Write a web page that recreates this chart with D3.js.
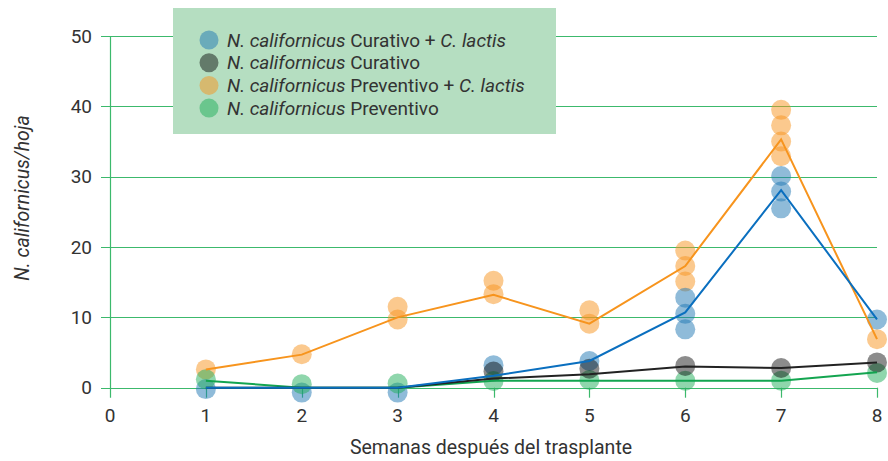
<!DOCTYPE html>
<meta charset="utf-8">
<script src="https://cdn.jsdelivr.net/npm/d3@7"></script>
<style>
  body { margin: 0; background: #fff; }
  text { font-family: Roboto, "Noto Sans", sans-serif; fill: #333; }
</style>
<body>
<script>

// weeks after transplant
var weeks = [1, 2, 3, 4, 5, 6, 7, 8];

// mean lines per treatment
var curLactisLine = [0, 0, 0, 1.7, 3.8, 10.7, 28.1, 9.7];
var curLine       = [0, 0, 0, 1.3, 1.9, 3.0, 2.8, 3.6];
var prevLactisLine = [2.6, 4.7, 10.0, 13.2, 9.1, 17.3, 35.3, 6.9];
var prevLine      = [1.0, 0, 0, 1.0, 1.0, 1.0, 1.0, 2.2];

// individual observations per week (one list per week)
var curLactisPts = [[-0.2], [-0.7], [-0.7], [3.2], [3.8], [12.8, 10.5, 8.3], [30.1, 27.9, 25.5], [9.7]];
var curPts       = [[], [], [], [2.3], [2.7], [3.1], [2.8], [3.6]];
var prevLactisPts = [[2.6], [4.75], [11.5, 9.7], [15.2, 13.3], [11.0, 9.1], [19.5, 17.3, 15.1], [39.5, 37.3, 35.0, 32.9], [6.9]];
var prevPts      = [[1.2], [0.5], [0.6], [0.95], [1.1], [1.0], [1.0], [2.1]];

var xTicks = [0, 1, 2, 3, 4, 5, 6, 7, 8];
var yTicks = [0, 10, 20, 30, 40, 50];

var series = [
  { name: "Curativo + ", extra: "C. lactis", color: "#1f77b4", line: "#0a6fbf", pts: curLactisPts, mean: curLactisLine },
  { name: "Curativo", extra: null, color: "#000000", line: "#222222", pts: curPts, mean: curLine },
  { name: "Preventivo + ", extra: "C. lactis", color: "#f7941d", line: "#f7941d", pts: prevLactisPts, mean: prevLactisLine },
  { name: "Preventivo", extra: null, color: "#1fae5a", line: "#13a550", pts: prevPts, mean: prevLine }
];

var grid = "#3cb96c";

var svg = d3.select("body").append("svg")
    .attr("width", 888)
    .attr("height", 461);

var x = d3.scaleLinear().domain([0, 8]).range([110, 877]);
var y = d3.scaleLinear().domain([0, 50]).range([387.7, 36]);

// horizontal grid
svg.append("g").selectAll("line")
    .data(yTicks)
    .enter().append("line")
    .attr("x1", x(0) - 9).attr("x2", x(8))
    .attr("y1", function(d) { return Math.round(y(d)) + 0.5; })
    .attr("y2", function(d) { return Math.round(y(d)) + 0.5; })
    .style("stroke", grid).style("stroke-width", 1.2);

// y axis line
svg.append("line")
    .attr("x1", x(0) + 0.5).attr("x2", x(0) + 0.5)
    .attr("y1", y(50)).attr("y2", y(0) + 10)
    .style("stroke", grid).style("stroke-width", 1.2);

// x ticks
svg.append("g").selectAll("line")
    .data(xTicks.slice(1))
    .enter().append("line")
    .attr("x1", function(d) { return Math.round(x(d)) + 0.5; })
    .attr("x2", function(d) { return Math.round(x(d)) + 0.5; })
    .attr("y1", y(0)).attr("y2", y(0) + 10)
    .style("stroke", grid).style("stroke-width", 1.2);

svg.append("g").selectAll("text")
    .data(yTicks)
    .enter().append("text")
    .attr("x", 92)
    .attr("y", function(d) { return y(d); })
    .attr("dy", "0.35em")
    .attr("text-anchor", "end")
    .style("font-size", "19px")
    .text(function(d) { return d; });

svg.append("g").selectAll("text")
    .data(xTicks)
    .enter().append("text")
    .attr("x", function(d) { return x(d); })
    .attr("y", 422)
    .attr("text-anchor", "middle")
    .style("font-size", "19px")
    .text(function(d) { return d; });

// axis titles
svg.append("text")
    .attr("x", 491).attr("y", 454)
    .attr("text-anchor", "middle")
    .style("font-size", "19.5px")
    .text("Semanas después del trasplante");

svg.append("text")
    .attr("transform", "translate(29,198) rotate(-90)")
    .attr("text-anchor", "middle")
    .style("font-size", "19.5px")
    .style("font-style", "italic")
    .text("N. californicus/hoja");

// points
var drawOrder = [2, 0, 3, 1];
drawOrder.forEach(function(i) {
  var s = series[i];
  var flat = [];
  s.pts.forEach(function(vals, k) {
    vals.forEach(function(v) { flat.push({ week: weeks[k], value: v }); });
  });
  svg.append("g").selectAll("circle")
      .data(flat)
      .enter().append("circle")
      .attr("cx", function(d) { return x(d.week); })
      .attr("cy", function(d) { return y(d.value); })
      .attr("r", 10)
      .style("fill", s.color)
      .style("opacity", i == 1 ? 0.45 : 0.5);
});

// mean lines
var line = d3.line()
    .x(function(d, k) { return x(weeks[k]); })
    .y(function(d) { return y(d); });

[3, 1, 2, 0].forEach(function(i) {
  svg.append("path")
      .attr("d", line(series[i].mean))
      .style("fill", "none")
      .style("stroke", series[i].line)
      .style("stroke-width", 2);
});

// legend
var lg = svg.append("g");
lg.append("rect")
    .attr("x", 173).attr("y", 8)
    .attr("width", 383).attr("height", 126)
    .style("fill", "#b5dec1");

series.forEach(function(s, i) {
  var cy = 40 + i * 22.7;
  lg.append("circle")
      .attr("cx", 209).attr("cy", cy).attr("r", 9.5)
      .style("fill", s.color)
      .style("opacity", i == 1 ? 0.45 : 0.5);
  var t = lg.append("text")
      .attr("x", 227).attr("y", cy)
      .attr("dy", "0.35em")
      .style("font-size", "19px");
  t.append("tspan").style("font-style", "italic").text("N. californicus");
  t.append("tspan").text(" " + s.name);
  if (s.extra) t.append("tspan").style("font-style", "italic").text(s.extra);
});

</script>
</body>
